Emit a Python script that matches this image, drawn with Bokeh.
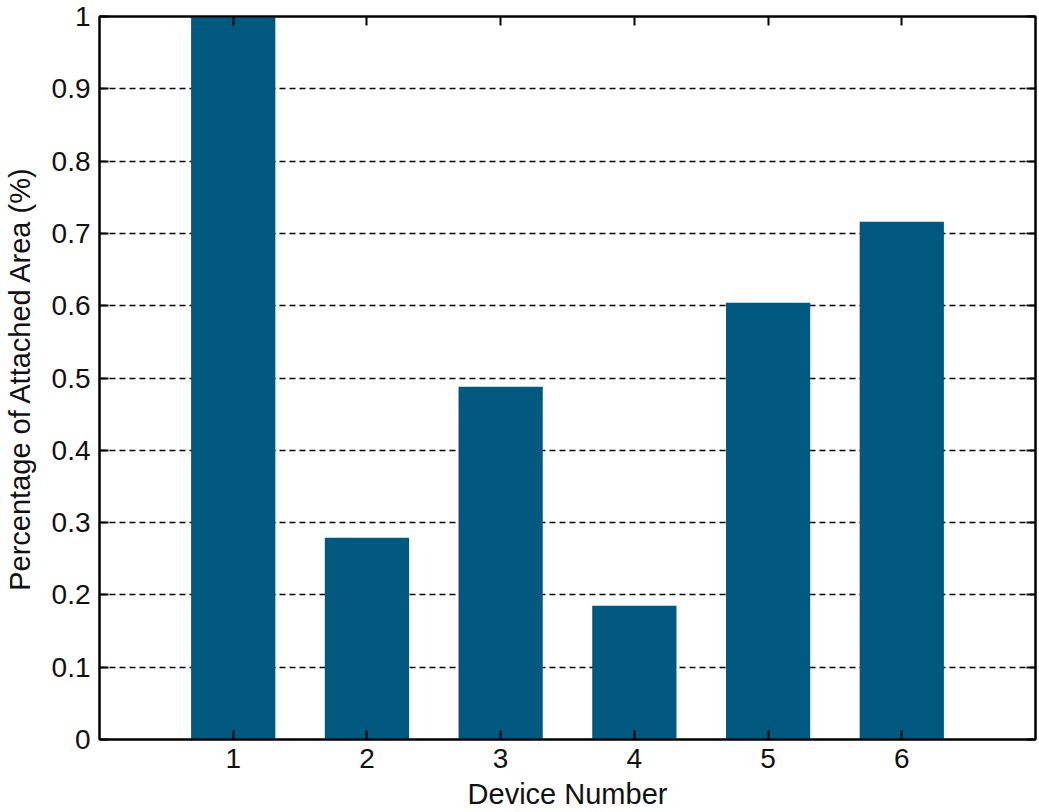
from bokeh.plotting import figure
from bokeh.models import (LinearAxis, FixedTicker, Range1d, LabelSet, ColumnDataSource,
                          NumeralTickFormatter)
from bokeh.embed import file_html
from bokeh.resources import INLINE

devices = [1, 2, 3, 4, 5, 6]
percent = [1.0, 0.279, 0.488, 0.185, 0.604, 0.716]
y_ticks = [0, 0.1, 0.2, 0.3, 0.4, 0.5, 0.6, 0.7, 0.8, 0.9, 1.0]
x_ticks = [1, 2, 3, 4, 5, 6]
watermark = ["知乎 @和粒科技"]

FONT = "Liberation Sans"
BAR = "#02597f"

p = figure(width=1039, height=812, output_backend="svg", toolbar_location=None,
           x_range=Range1d(0, 7), y_range=Range1d(0, 1),
           min_border_left=97, min_border_right=4, min_border_top=16, min_border_bottom=73)
p.outline_line_color = "black"
p.outline_line_width = 2

p.vbar(x=devices, top=percent, width=0.63, color=BAR, line_color=None)

def style(ax, labels=True):
    ax.axis_line_color = "black"
    ax.axis_line_width = 2
    ax.major_tick_in = 9
    ax.major_tick_out = 0
    ax.major_tick_line_width = 2
    ax.minor_tick_line_color = None
    if labels:
        ax.major_label_text_font = FONT
        ax.major_label_text_font_size = "28px"
        ax.major_label_text_color = "#111111"
        ax.axis_label_text_font = FONT
        ax.axis_label_text_font_style = "normal"
        ax.axis_label_text_font_size = "29px"
        ax.axis_label_text_color = "#111111"
    else:
        ax.major_label_text_font_size = "0px"

xa = p.xaxis[0]
xa.ticker = FixedTicker(ticks=x_ticks)
xa.axis_label = "Device Number"
xa.major_label_standoff = 9
xa.axis_label_standoff = 7
style(xa)

ya = p.yaxis[0]
ya.ticker = FixedTicker(ticks=y_ticks)
ya.formatter = NumeralTickFormatter(format="0.[0]")
ya.axis_label = "Percentage of Attached Area (%)"
ya.major_label_standoff = 9
ya.axis_label_standoff = 13
style(ya)

top_ax = LinearAxis(ticker=FixedTicker(ticks=x_ticks))
style(top_ax, labels=False)
p.add_layout(top_ax, "above")
right_ax = LinearAxis(ticker=FixedTicker(ticks=y_ticks))
style(right_ax, labels=False)
p.add_layout(right_ax, "right")

p.xgrid.grid_line_color = None
p.ygrid.ticker = FixedTicker(ticks=y_ticks)
p.ygrid.grid_line_color = "black"
p.ygrid.grid_line_width = 1.5
p.ygrid.grid_line_dash = "6 4"

wm_src = ColumnDataSource(dict(text=watermark, x=[790], y=[785]))
wm = LabelSet(source=wm_src, x="x", y="y", text="text", x_units="canvas", y_units="canvas",
              text_font=FONT, text_font_size="30px", text_color="#b8b8b8", text_alpha=0.85)
wm.text_font = "Noto Sans CJK SC"
p.add_layout(wm, "below")

open("out.html", "w").write(file_html(p, INLINE))
